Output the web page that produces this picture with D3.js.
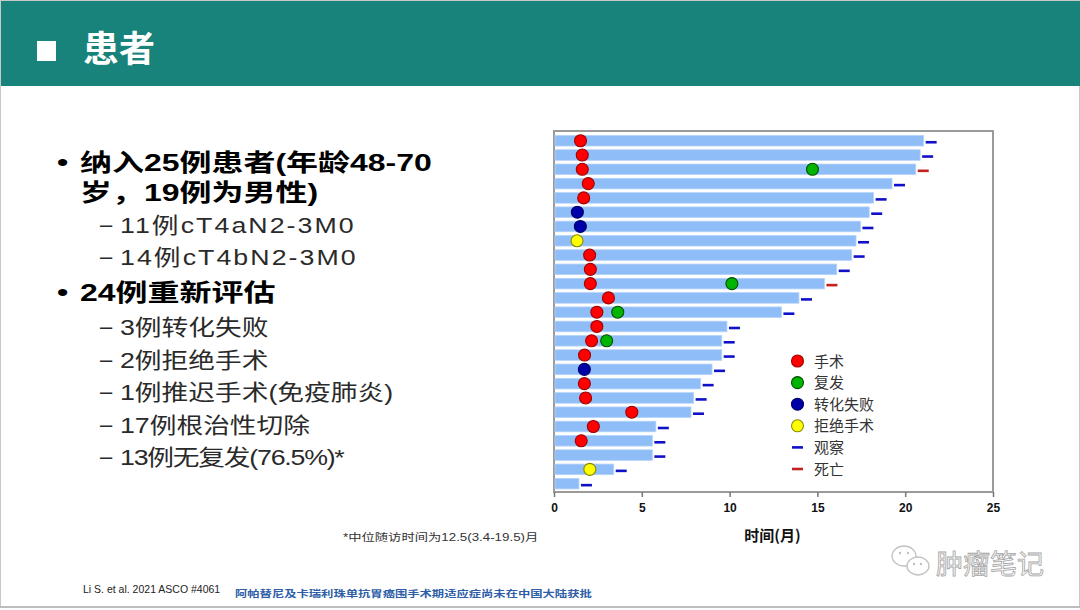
<!DOCTYPE html>
<html><head><meta charset="utf-8">
<script src="https://cdn.jsdelivr.net/npm/d3@7"></script>
<style>html,body{margin:0;padding:0;background:#fff;}svg{display:block;}</style>
</head><body>
<svg id="c" width="1080" height="610"></svg>
<script>
// ---------- DATA ----------
const patients = d3.range(1, 26).map(i => "P" + i);
const duration = [21.05, 20.85, 20.6, 19.25, 18.2, 17.95, 17.45, 17.2, 16.95, 16.1, 15.4, 13.95, 12.95, 9.85, 9.55, 9.55, 9.0, 8.35, 7.95, 7.8, 5.8, 5.6, 5.6, 3.4, 1.42];
const outcome = ["观察","观察","死亡","观察","观察","观察","观察","观察","观察","观察","死亡","观察","观察","观察","观察","观察","观察","观察","观察","观察","观察","观察","观察","观察","观察"];
const surgery = [1.51, 1.61, 1.61, 1.95, 1.69, null, null, null, 2.03, 2.07, 2.07, 3.10, 2.44, 2.44, 2.14, 1.74, null, 1.73, 1.80, 4.43, 2.24, 1.55, null, null, null];
const recurrence = [null, null, 14.72, null, null, null, null, null, null, null, 10.13, null, 3.63, null, 3.0, null, null, null, null, null, null, null, null, null, null];
const conversionFail = [null, null, null, null, null, 1.33, 1.50, null, null, null, null, null, null, null, null, null, 1.73, null, null, null, null, null, null, null, null];
const refusedSurgery = [null, null, null, null, null, null, null, 1.31, null, null, null, null, null, null, null, null, null, null, null, null, null, null, null, 2.04, null];
const xTicks = [0, 5, 10, 15, 20, 25];
const legendLabels = ["手术", "复发", "转化失败", "拒绝手术", "观察", "死亡"];
const title = "患者";
const bulletLines = [
  {lvl: 1, bullet: true, text: "纳入25例患者(年龄48-70"},
  {lvl: 1, bullet: false, text: "岁，19例为男性)"},
  {lvl: 2, text: "11例cT4aN2-3M0"},
  {lvl: 2, text: "14例cT4bN2-3M0"},
  {lvl: 1, bullet: true, text: "24例重新评估"},
  {lvl: 2, text: "3例转化失败"},
  {lvl: 2, text: "2例拒绝手术"},
  {lvl: 2, text: "1例推迟手术(免疫肺炎)"},
  {lvl: 2, text: "17例根治性切除"},
  {lvl: 2, text: "13例无复发(76.5%)*"}
];
const footnote = "*中位随访时间为12.5(3.4-19.5)月";
const reference = "Li S. et al. 2021 ASCO #4061";
const disclaimer = "阿帕替尼及卡瑞利珠单抗胃癌围手术期适应症尚未在中国大陆获批";
const watermark = "肿瘤笔记";
const xTitle = "时间(月)";

// ---------- STYLES ----------
const svg = d3.select("#c");
const FONT = "'Liberation Sans', Arial, 'Noto Sans CJK SC', sans-serif";
const CJK = "'Noto Sans CJK SC', 'Liberation Sans', sans-serif";
const S = 1.333;   // horizontal stretch of bold slide text
const S2 = 1.215;  // horizontal stretch of sub-item text
const lineBaselines = [170.7, 201, 233, 265, 300.5, 335, 367.5, 400, 432.5, 465];
const lineSpacing = [0, 0, 1.7, 1.7, 0, 0, 0, 0, 0, -1];

// slide frame
svg.append("rect").attr("x", 0.5).attr("y", 0.5).attr("width", 1079).attr("height", 606)
  .attr("fill", "#fff").attr("stroke", "#c8c8c8");
svg.append("rect").attr("x", 1).attr("y", 1).attr("width", 1079).attr("height", 85).attr("fill", "#17837a");
svg.append("line").attr("x1", 0).attr("x2", 1080).attr("y1", 607).attr("y2", 607).attr("stroke", "#bdbdbd").attr("stroke-width", 2);

// header
svg.append("rect").attr("x", 37).attr("y", 41).attr("width", 19).attr("height", 20).attr("fill", "#fff");
svg.append("text").attr("x", 83).attr("y", 62).attr("font-family", CJK).attr("font-weight", "bold")
  .attr("font-size", 36).attr("fill", "#fff").text(title);

// bullet list
bulletLines.forEach((d, i) => {
  const y = lineBaselines[i];
  if (d.lvl === 1) {
    if (d.bullet) {
      svg.append("g").attr("transform", `translate(57,${y}) scale(${S},1)`).append("text")
        .attr("font-family", FONT).attr("font-size", 24).attr("font-weight", "bold").attr("fill", "#000").text("•");
    }
    svg.append("g").attr("transform", `translate(80,${y}) scale(${S},1)`).append("text")
      .attr("font-family", FONT).attr("font-size", 24).attr("font-weight", "bold").attr("fill", "#000").text(d.text);
  } else {
    svg.append("text").attr("x", 100).attr("y", y - 1)
      .attr("font-family", FONT).attr("font-size", 22).attr("fill", "#2a2a2a").text("–");
    svg.append("g").attr("transform", `translate(120,${y}) scale(${S2},1)`).append("text")
      .attr("font-family", FONT).attr("font-size", 22).attr("letter-spacing", lineSpacing[i])
      .attr("fill", "#2a2a2a").text(d.text);
  }
});

// footnotes
svg.append("g").attr("transform", `translate(343,541) scale(${S},1)`).append("text")
  .attr("font-family", FONT).attr("font-size", 10).attr("fill", "#333").text(footnote);
svg.append("text").attr("x", 83).attr("y", 593).attr("font-family", FONT).attr("font-size", 10.5)
  .attr("fill", "#222").text(reference);
svg.append("g").attr("transform", `translate(235,597) scale(${S},1)`).append("text")
  .attr("font-family", CJK).attr("font-size", 9.25).attr("font-weight", "bold").attr("fill", "#2e5ea8").text(disclaimer);

// ---------- CHART ----------
const frame = {l: 554, r: 993, t: 131, b: 492};
const x = d3.scaleLinear().domain([0, 25]).range([frame.l, frame.r]);
const y = d3.scaleBand().domain(patients).range([133.6, 490.8]).paddingInner(0.26).paddingOuter(0.13);

const chart = svg.append("g");
chart.append("rect").attr("x", frame.l).attr("y", frame.t).attr("width", frame.r - frame.l).attr("height", frame.b - frame.t)
  .attr("fill", "none").attr("stroke", "#9a9a9a").attr("stroke-width", 2);

// bars
chart.selectAll("rect.bar").data(patients).join("rect").attr("class", "bar")
  .attr("x", x(0) + 1).attr("y", p => y(p)).attr("height", y.bandwidth())
  .attr("width", (p, i) => x(duration[i]) - x(0) - 1)
  .attr("fill", "#8fbdf7").attr("stroke", "#b5d3fa").attr("stroke-width", 0.8);

// outcome ticks
const obsColor = "#1010c8", deathColor = "#c42020";
chart.selectAll("line.out").data(patients).join("line").attr("class", "out")
  .attr("x1", (p, i) => x(duration[i]) + 2).attr("x2", (p, i) => x(duration[i]) + 13)
  .attr("y1", p => y(p) + y.bandwidth() / 2 + 1.5).attr("y2", p => y(p) + y.bandwidth() / 2 + 1.5)
  .attr("stroke", (p, i) => outcome[i] === "死亡" ? deathColor : obsColor).attr("stroke-width", 2.6);

// event markers
const markerSets = [
  {vals: surgery, fill: "#ff0000", stroke: "#a00000"},
  {vals: recurrence, fill: "#00b400", stroke: "#005000"},
  {vals: conversionFail, fill: "#0000a8", stroke: "#000066"},
  {vals: refusedSurgery, fill: "#ffff00", stroke: "#8a8a00"}
];
markerSets.forEach(ms => {
  const pts = patients.map((p, i) => ({p, v: ms.vals[i]})).filter(d => d.v != null);
  chart.selectAll(null).data(pts).join("circle")
    .attr("cx", d => x(d.v)).attr("cy", d => y(d.p) + y.bandwidth() / 2)
    .attr("r", 6).attr("fill", ms.fill).attr("stroke", ms.stroke).attr("stroke-width", 1.1);
});

// x axis
const axis = chart.append("g").attr("transform", `translate(0,${frame.b})`)
  .call(d3.axisBottom(x).tickValues(xTicks).tickSize(5).tickPadding(6).tickFormat(d3.format("d")));
axis.select(".domain").remove();
axis.selectAll(".tick line").attr("stroke", "#777").attr("stroke-width", 1.5);
axis.selectAll(".tick text").attr("font-family", FONT).attr("font-size", 12).attr("font-weight", "bold").attr("fill", "#111");
chart.append("text").attr("x", (frame.l + frame.r) / 2 - 1).attr("y", 541).attr("text-anchor", "middle")
  .attr("font-family", CJK).attr("font-weight", "bold").attr("font-size", 15).attr("fill", "#111").text(xTitle);

// legend
const legendY = d3.scalePoint().domain(legendLabels).range([361, 469]);
const legendMarks = [markerSets[0], markerSets[1], markerSets[2], markerSets[3], {line: obsColor}, {line: deathColor}];
legendLabels.forEach((lab, i) => {
  const m = legendMarks[i], yy = legendY(lab);
  if (m.line) {
    chart.append("line").attr("x1", 792).attr("x2", 803).attr("y1", yy).attr("y2", yy)
      .attr("stroke", m.line).attr("stroke-width", 2.6);
  } else {
    chart.append("circle").attr("cx", 797.5).attr("cy", yy).attr("r", 6)
      .attr("fill", m.fill).attr("stroke", m.stroke).attr("stroke-width", 1.1);
  }
  chart.append("text").attr("x", 814).attr("y", yy + 5.5).attr("font-family", CJK).attr("font-size", 15)
    .attr("fill", "#333").text(lab);
});

// watermark
const wm = svg.append("g").attr("opacity", 0.9);
wm.append("ellipse").attr("cx", 904).attr("cy", 556).attr("rx", 12).attr("ry", 10).attr("fill", "#fff").attr("stroke", "#bbb").attr("stroke-width", 1.3);
wm.append("ellipse").attr("cx", 918).attr("cy", 566).attr("rx", 11).attr("ry", 9).attr("fill", "#fff").attr("stroke", "#bbb").attr("stroke-width", 1.3);
[[900, 553], [908, 553], [914, 564], [921, 564]].forEach(c => wm.append("circle").attr("cx", c[0]).attr("cy", c[1]).attr("r", 1.2).attr("fill", "#bbb"));
wm.append("text").attr("x", 936).attr("y", 574).attr("font-family", CJK).attr("font-size", 27)
  .attr("fill", "#fafafa").attr("stroke", "#9a9a9a").attr("stroke-width", 0.8).text(watermark);
</script>
</body></html>
